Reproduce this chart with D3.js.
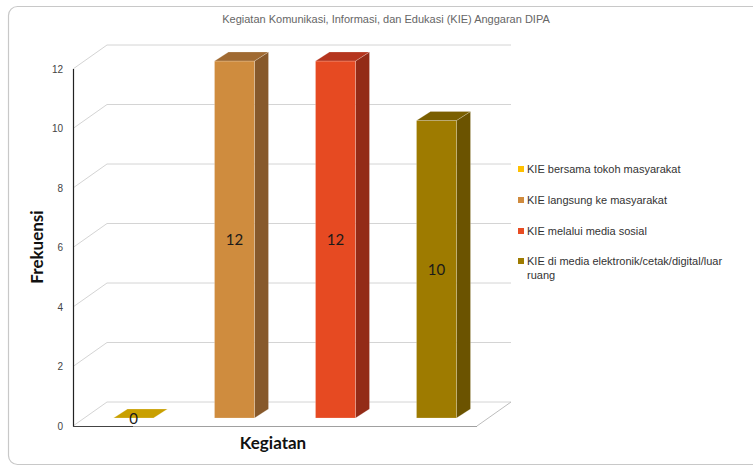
<!DOCTYPE html>
<html>
<head>
<meta charset="utf-8">
<script src="https://cdn.jsdelivr.net/npm/d3@7"></script>
<style>
  html, body { margin: 0; padding: 0; background: #fff; }
  svg { display: block; }
</style>
</head>
<body>
<svg id="chart" width="753" height="468"></svg>
<script>
// Chart data
const categories = [
  "KIE bersama tokoh masyarakat",
  "KIE langsung ke masyarakat",
  "KIE melalui media sosial",
  "KIE di media elektronik/cetak/digital/luar ruang"
];
const values = [0, 12, 12, 10];
const yTicks = [0, 2, 4, 6, 8, 10, 12];
const chartTitle = "Kegiatan Komunikasi, Informasi, dan Edukasi (KIE) Anggaran DIPA";
const yTitle = "Frekuensi";
const xTitle = "Kegiatan";

// Face colours per series: front, side, top, legend swatch
const palette = [
  { front: "#C9A000", side: "#8C7000", top: "#C49A00", swatch: "#FFC000" },
  { front: "#CF8C3E", side: "#87592B", top: "#A06A32", swatch: "#D08B3E" },
  { front: "#E64A22", side: "#932B17", top: "#B5351E", swatch: "#E84C22" },
  { front: "#9E7B00", side: "#6B5300", top: "#7A5F00", swatch: "#9E7B00" }
];

const svg = d3.select("#chart");

// Outer frame
svg.append("rect")
  .attr("x", 8.5).attr("y", 6.5)
  .attr("width", 770).attr("height", 458)
  .attr("rx", 9)
  .attr("fill", "#fff").attr("stroke", "#c8c8c8").attr("stroke-width", 1.2);

// Title
svg.append("text")
  .attr("x", 386).attr("y", 23)
  .attr("text-anchor", "middle")
  .attr("font-family", "Liberation Sans, Arial, sans-serif")
  .attr("font-size", 11)
  .attr("fill", "#666")
  .text(chartTitle);

// Plot geometry (3D projection)
const plotLeft = 73, plotRight = 477, plotBottom = 426, plotTop = 69;
const depth = { dx: 34, dy: -24 };      // floor / wall depth
const barOff = { dx: 10, dy: -8 };      // bar front face offset into depth
const barDepth = { dx: 14, dy: -9 };    // bar thickness in depth
const barWidth = 40;

const x = d3.scaleBand().domain(categories).range([plotLeft, plotRight]);
const y = d3.scaleLinear().domain([0, 12]).range([plotBottom, plotTop]);

const grid = svg.append("g");
// Back wall gridlines and left wall diagonals
yTicks.forEach(t => {
  const yy = y(t);
  grid.append("line")
    .attr("x1", plotLeft + depth.dx).attr("x2", plotRight + depth.dx)
    .attr("y1", yy + depth.dy).attr("y2", yy + depth.dy)
    .attr("stroke", "#d4d4d4").attr("stroke-width", 1);
  grid.append("line")
    .attr("x1", plotLeft).attr("y1", yy)
    .attr("x2", plotLeft + depth.dx).attr("y2", yy + depth.dy)
    .attr("stroke", "#d4d4d4").attr("stroke-width", 1);
});
// Floor edges
grid.append("line")
  .attr("x1", plotRight).attr("y1", y(0))
  .attr("x2", plotRight + depth.dx).attr("y2", y(0) + depth.dy)
  .attr("stroke", "#bdbdbd");
grid.append("line")
  .attr("x1", plotLeft).attr("y1", y(0) + 0.5)
  .attr("x2", plotRight).attr("y2", y(0) + 0.5)
  .attr("stroke", "#a0a0a0");

// Y axis line
svg.append("line")
  .attr("x1", plotLeft + 0.5).attr("x2", plotLeft + 0.5)
  .attr("y1", y(12)).attr("y2", y(0) + 0.5)
  .attr("stroke", "#222").attr("stroke-width", 1.2);
svg.append("line")
  .attr("x1", plotLeft).attr("x2", plotLeft + 60)
  .attr("y1", y(0) + 0.5).attr("y2", y(0) + 0.5)
  .attr("stroke", "#444").attr("stroke-width", 1);

// Y tick labels
svg.append("g").selectAll("text")
  .data(yTicks).join("text")
  .attr("x", 63).attr("y", d => y(d))
  .attr("dy", "0.35em")
  .attr("text-anchor", "end")
  .attr("font-family", "Liberation Sans, Arial, sans-serif")
  .attr("font-size", 10)
  .attr("fill", "#444")
  .text(d => d);

// Bars
const bars = svg.append("g");
categories.forEach((c, i) => {
  const v = values[i];
  const col = palette[i];
  const x0 = x(c) + x.bandwidth() / 2 - barWidth / 2 + barOff.dx;
  const x1 = x0 + barWidth;
  const yb = y(0) + barOff.dy;
  const yt = y(v) + barOff.dy;
  const g = bars.append("g");
  if (v > 0) {
    // side face
    g.append("path")
      .attr("d", `M${x1},${yb} L${x1 + barDepth.dx},${yb + barDepth.dy} L${x1 + barDepth.dx},${yt + barDepth.dy} L${x1},${yt} Z`)
      .attr("fill", col.side).attr("stroke", "rgba(255,255,255,0.35)").attr("stroke-width", 0.6);
    // front face
    g.append("rect")
      .attr("x", x0).attr("y", yt)
      .attr("width", barWidth).attr("height", yb - yt)
      .attr("fill", col.front).attr("stroke", "rgba(255,255,255,0.35)").attr("stroke-width", 0.6);
  }
  // top face
  g.append("path")
    .attr("d", `M${x0},${yt} L${x1},${yt} L${x1 + barDepth.dx},${yt + barDepth.dy} L${x0 + barDepth.dx},${yt + barDepth.dy} Z`)
    .attr("fill", v > 0 ? col.top : col.front)
    .attr("stroke", "rgba(255,255,255,0.35)").attr("stroke-width", 0.6);
  // value label
  g.append("text")
    .attr("x", (x0 + x1) / 2)
    .attr("y", v > 0 ? (yt + yb) / 2 : yb + 1)
    .attr("dy", "0.35em")
    .attr("text-anchor", "middle")
    .attr("font-family", "Lato, Carlito, sans-serif")
    .attr("font-size", 15)
    .attr("fill", "#1a1a1a")
    .text(v);
});

// Axis titles
svg.append("text")
  .attr("transform", "translate(43,247) rotate(-90)")
  .attr("text-anchor", "middle")
  .attr("font-family", "Lato, Carlito, sans-serif")
  .attr("font-weight", "bold")
  .attr("font-size", 17)
  .attr("fill", "#111")
  .text(yTitle);
svg.append("text")
  .attr("x", 273).attr("y", 449)
  .attr("text-anchor", "middle")
  .attr("font-family", "Lato, Carlito, sans-serif")
  .attr("font-weight", "bold")
  .attr("font-size", 17)
  .attr("fill", "#111")
  .text(xTitle);

// Legend
const legendRows = [169, 200, 231, 261];
const legend = svg.append("g");
categories.forEach((c, i) => {
  const ly = legendRows[i];
  legend.append("rect")
    .attr("x", 518).attr("y", ly - 3)
    .attr("width", 6).attr("height", 6)
    .attr("fill", palette[i].swatch);
  const t = legend.append("text")
    .attr("x", 527).attr("y", ly)
    .attr("dy", "0.35em")
    .attr("font-family", "Liberation Sans, Arial, sans-serif")
    .attr("font-size", 11)
    .attr("fill", "#333");
  if (i === 3) {
    t.append("tspan").attr("x", 527).text("KIE di media elektronik/cetak/digital/luar");
    t.append("tspan").attr("x", 527).attr("dy", "1.25em").text("ruang");
  } else {
    t.text(c);
  }
});
</script>
</body>
</html>
